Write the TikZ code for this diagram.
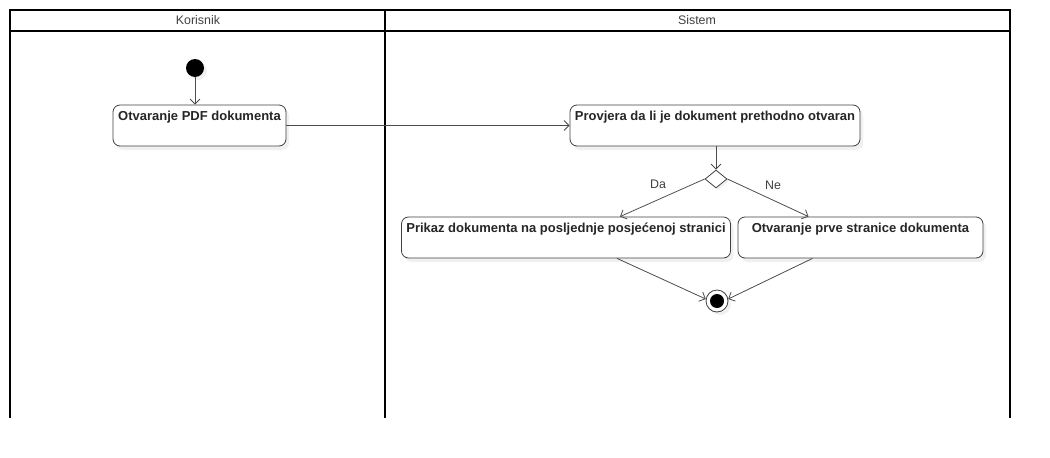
\documentclass[tikz,border=0pt]{standalone}
\usepackage{fontspec}
\setmainfont{Liberation Sans}
\usetikzlibrary{arrows.meta,shapes.geometric,shadows}
\begin{document}
\begin{tikzpicture}[x=1pt,y=-1pt,
  lane/.style={line width=1.6pt,draw=black},
  lanehead/.style={font=\fontsize{12.4}{14}\selectfont,text=black!75},
  act/.style={draw=black!75,line width=0.8pt,rounded corners=7pt,fill=white,
    font=\bfseries\fontsize{13}{15}\selectfont,text=black!85,
    text height=10pt,text depth=21pt,inner ysep=5pt,inner xsep=2pt,
    drop shadow={opacity=0.12,shadow xshift=3pt,shadow yshift=-4pt}},
  flow/.style={draw=black!70,line width=0.8pt,-{Straight Barb[length=5pt,width=10pt]}},
  guard/.style={font=\fontsize{12.4}{14}\selectfont,text=black!75},
  startst/.style={circle,fill=black,minimum size=18pt,inner sep=0pt,
    drop shadow={opacity=0.12,shadow xshift=3pt,shadow yshift=-3pt}},
  dec/.style={diamond,draw=black!75,line width=0.8pt,fill=white,minimum width=22pt,minimum height=18pt,inner sep=0pt,
    drop shadow={opacity=0.12,shadow xshift=2pt,shadow yshift=-2pt}},
  endouter/.style={circle,draw=black!75,line width=0.8pt,fill=white,minimum size=22pt,inner sep=0pt,
    drop shadow={opacity=0.12,shadow xshift=3pt,shadow yshift=-3pt}}
]
\useasboundingbox (0,0) rectangle (1050,458);
% swimlanes
\draw[lane] (10,418) -- (10,10) -- (1010,10) -- (1010,418);
\draw[lane] (10,31) -- (1010,31);
\draw[lane] (385,10) -- (385,418);
\node[lanehead] (hk) at (198,20) {Korisnik};
\node[lanehead] (hs) at (697,20) {Sistem};
% nodes
\node[startst] (start) at (195,68) {};
\node[act,minimum width=173pt] (n1) at (199.5,125.5) {Otvaranje PDF dokumenta};
\node[act,minimum width=290pt] (n2) at (715,125.5) {Provjera da li je dokument prethodno otvaran};
\node[dec] (d) at (716,179) {};
\node[act,minimum width=329pt] (n3) at (566,237.5) {Prikaz dokumenta na posljednje posjećenoj stranici};
\node[act,minimum width=245pt] (n4) at (860.5,237.5) {Otvaranje prve stranice dokumenta};
\node[endouter] (fin) at (717,301) {};
\node[circle,fill=black,minimum size=14pt,inner sep=0pt] (finin) at (fin.center) {};
% edges
\draw[flow] (start.south) -- (start.south |- n1.north);
\draw[flow] (n1.east) -- (n2.west);
\draw[flow] (n2.south -| d.north) -- (d.north);
\draw[flow] (d.west) -- ([xshift=54pt]n3.north);
\draw[flow] (d.east) -- ([xshift=-52pt]n4.north);
\draw[flow] ([xshift=51pt]n3.south) -- (fin.170);
\draw[flow] ([xshift=-48pt]n4.south) -- (fin.10);
\node[guard] (gda) at (658,184) {Da};
\node[guard] (gne) at (773,185) {Ne};
\end{tikzpicture}
\end{document}
